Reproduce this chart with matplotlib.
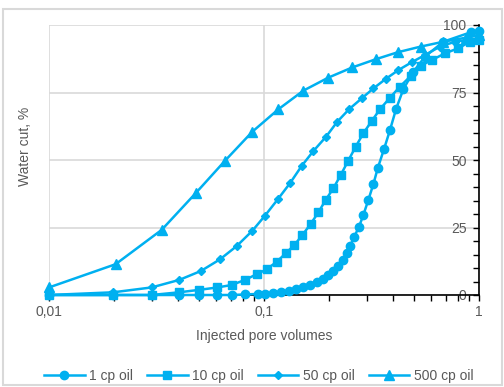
import matplotlib
matplotlib.use('Agg')
import matplotlib.pyplot as plt
from matplotlib.patches import Rectangle
from matplotlib.ticker import FixedLocator, LogLocator, NullFormatter, FuncFormatter

plt.rcParams['font.family'] = ['Liberation Sans', 'DejaVu Sans']

BLUE = '#00B0F0'
GRID = '#D9D9D9'
TEXT = '#595959'

# 1 cp oil
pv_1cp = [0.01, 0.0199, 0.030, 0.0403, 0.0499, 0.0607, 0.0707, 0.0816, 0.0935,
          0.1011, 0.1105, 0.120, 0.1302, 0.1409, 0.1524, 0.1637, 0.1758, 0.1875,
          0.199, 0.2101, 0.2217, 0.2322, 0.2424, 0.2512, 0.2622, 0.2767, 0.2897,
          0.3057, 0.3225, 0.3379, 0.3615, 0.3855, 0.4111, 0.4446, 0.4951, 0.561,
          0.6823, 0.9146, 1.0]
wc_1cp = [0, 0, 0, 0, 0, 0, 0, 0.2, 0.4, 0.4, 0.6, 1.0, 1.5, 2.1, 2.8, 3.7, 4.7,
          5.8, 7.4, 9.0, 10.9, 13.0, 15.4, 18.1, 21.4, 25.3, 29.6, 35.2, 41.0,
          46.9, 54.0, 61.1, 68.8, 76.2, 82.7, 88.3, 93.8, 97.3, 97.9]

# 10 cp oil
pv_10cp = [0.01, 0.0199, 0.030, 0.0403, 0.0499, 0.0607, 0.0707, 0.0816, 0.0925,
           0.1029, 0.1145, 0.1261, 0.1384, 0.1508, 0.1648, 0.179, 0.1936, 0.2101,
           0.2273, 0.2467, 0.2669, 0.2897, 0.3168, 0.3463, 0.3855, 0.4292, 0.481,
           0.5355, 0.6024, 0.695, 0.8015, 0.908, 1.0]
wc_10cp = [0, 0, 0, 1.0, 1.9, 2.8, 3.7, 5.6, 7.7, 9.5, 12.3, 15.4, 18.5, 22.2,
           26.3, 30.6, 35.2, 39.5, 44.4, 49.8, 54.9, 59.9, 64.4, 68.8, 73.1, 77.2,
           81.1, 84.9, 87.0, 89.5, 91.4, 93.8, 94.4]

# 50 cp oil
pv_50cp = [0.01, 0.0199, 0.030, 0.0404, 0.0509, 0.0624, 0.0746, 0.0883, 0.1011,
           0.1158, 0.1321, 0.1497, 0.1696, 0.1943, 0.2193, 0.2494, 0.2846, 0.3225,
           0.368, 0.4217, 0.4864, 0.561, 0.6585, 0.773, 0.905, 1.0]
wc_50cp = [0, 1.0, 2.8, 5.6, 8.9, 13.2, 18.1, 23.8, 29.4, 35.4, 41.4, 47.8, 53.3,
           58.6, 64.2, 68.9, 72.8, 76.5, 80.0, 83.3, 86.2, 88.9, 92.0, 93.8, 94.6, 95.0]

# 500 cp oil
pv_500cp = [0.01, 0.0204, 0.0334, 0.0481, 0.066, 0.0883, 0.1167, 0.1525, 0.199,
            0.2577, 0.3305, 0.4185, 0.5354, 0.6823, 0.87, 1.0]
wc_500cp = [2.8, 11.4, 24.1, 37.7, 49.8, 60.5, 68.8, 75.7, 80.5, 84.3, 87.3, 89.9,
            92.0, 93.8, 95.3, 96.2]

series = [
    ('1 cp oil', pv_1cp, wc_1cp, 'o', 6.0),
    ('10 cp oil', pv_10cp, wc_10cp, 's', 6.0),
    ('50 cp oil', pv_50cp, wc_50cp, 'D', 4.0),
    ('500 cp oil', pv_500cp, wc_500cp, '^', 6.8),
]

fig = plt.figure(figsize=(5.04, 3.87), dpi=100)
ax = fig.add_axes([49 / 504, 92 / 387, 430 / 504, 270 / 387])

for name, x, y, mk, ms in series:
    ax.plot(x, y, color=BLUE, lw=1.8, marker=mk, ms=ms, mec=BLUE, mfc=BLUE,
            label=name, clip_on=False, zorder=3)

ax.set_xscale('log')
ax.set_xlim(0.01, 1)
ax.set_ylim(0, 100)

ax.xaxis.set_major_locator(FixedLocator([0.01, 0.1, 1]))
ax.xaxis.set_minor_locator(LogLocator(base=10, subs=range(2, 10)))
ax.xaxis.set_minor_formatter(NullFormatter())
ax.xaxis.set_major_formatter(FuncFormatter(lambda v, p: ('%g' % v).replace('.', ',')))

ax.yaxis.set_major_locator(FixedLocator([0, 25, 50, 75, 100]))
ax.yaxis.set_minor_locator(FixedLocator(list(range(5, 100, 5))))
ax.yaxis.set_ticks_position('right')
ax.tick_params(axis='y', which='both', direction='in', length=4, width=1,
               color='black', labelsize=10, labelcolor=TEXT, pad=-9)
for lbl in ax.get_yticklabels():
    lbl.set_horizontalalignment('right')
ax.tick_params(axis='x', which='both', direction='out', length=4, width=1,
               color='black', labelsize=10, labelcolor=TEXT, pad=3.5)

ax.grid(True, which='major', color=GRID, lw=1.2, zorder=0)
ax.set_axisbelow(True)
for s in ['top', 'left']:
    ax.spines[s].set_visible(False)
for s in ['bottom', 'right']:
    ax.spines[s].set_color('black')
    ax.spines[s].set_linewidth(1.2)

ax.set_xlabel('Injected pore volumes', fontsize=10, color=TEXT)
ax.xaxis.set_label_coords(0.5, -0.125)
ax.set_ylabel('Water cut, %', fontsize=10, color=TEXT)
ax.yaxis.set_label_position('left')
ax.yaxis.set_label_coords(-0.04, 0.55)

fig.legend(loc='center', bbox_to_anchor=(259 / 504, 1 - 376 / 387), ncol=4,
           frameon=False, fontsize=10, handlelength=2.9, handletextpad=0.35,
           columnspacing=1.0, labelcolor=TEXT)

fig.patches.append(Rectangle((3 / 504, 2 / 387), 499 / 504, 376 / 387,
                             transform=fig.transFigure, fill=False,
                             edgecolor=GRID, lw=1.5))

fig.savefig('out.png', dpi=100)
